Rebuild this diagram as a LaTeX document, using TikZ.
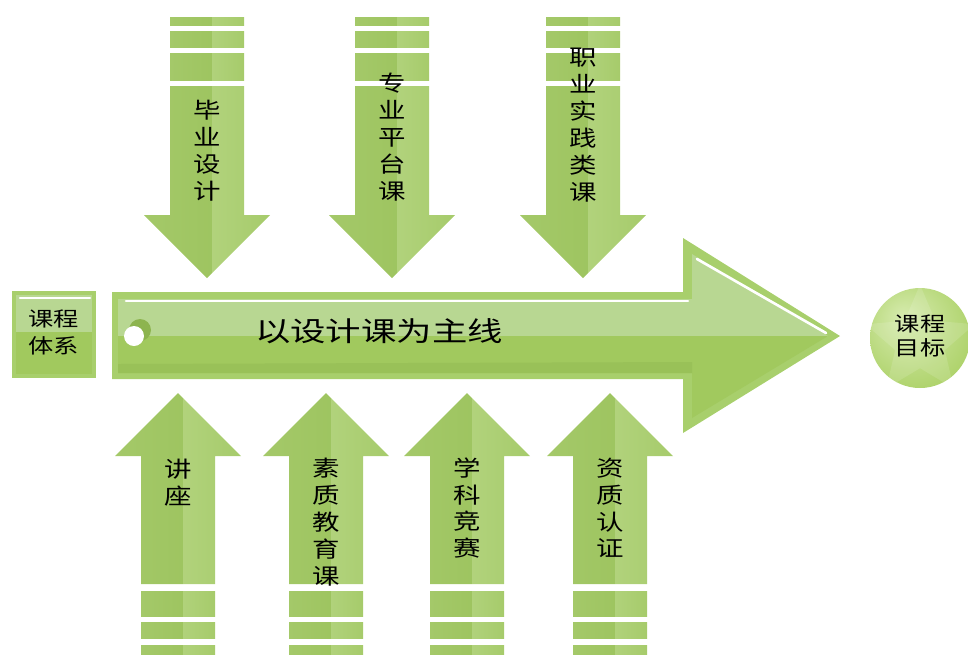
\documentclass[tikz,border=0pt]{standalone}
\usepackage{fontspec}
\setmainfont{Noto Sans CJK SC}
\usepackage{tikz}
\usetikzlibrary{shapes.geometric}
\definecolor{leafdark}{HTML}{99C159}
\definecolor{leafedge}{HTML}{A8CF6C}
\definecolor{leaflight}{HTML}{BEDB8F}
\definecolor{leafmid}{HTML}{A6CB6B}
\definecolor{leaftop}{HTML}{B8D792}
\definecolor{leafbot}{HTML}{A1C95E}
\definecolor{leafshadow}{HTML}{8DB44F}
\definecolor{ballhi}{HTML}{D6EBAE}
\definecolor{ballmid}{HTML}{AAD064}
\definecolor{ballrim}{HTML}{86B540}
\pgfdeclareradialshading{goalball}{\pgfpoint{-9bp}{11bp}}{%
  color(0bp)=(ballhi); color(14bp)=(ballhi!60!ballmid); color(34bp)=(ballmid); color(50bp)=(ballrim)}

\begin{document}
\begin{tikzpicture}
        [%%%%%%%%%%%%%%%%%%%%%%%%%%%%%%
        x=0.02cm, y=-0.02cm,
        darkhalf/.style={left color=leafdark!70!leaflight, right color=leafdark},
        lighthalf/.style={left color=leaflight, right color=leafmid},
        lbl/.style={font=\fontsize{12.5}{15.3}\selectfont, align=center, xscale=1.25, inner sep=0pt},
        ]%%%%%%%%%%%%%%%%%%%%%%%%%%%%%%
        \useasboundingbox (0,0) rectangle (968,654);
        % DOWN ARROWS (top row)
        \foreach \cx/\ty/\nm/\txt in {207/151/bysj/{毕\\业\\设\\计},
                                      392/137/zypt/{专\\业\\平\\台\\课},
                                      583/125/zysj/{职\\业\\实\\践\\类\\课}}{
          \def\arrowdown{(\cx-37,86) -- (\cx+37,86) -- (\cx+37,215) -- (\cx+63,215) -- (\cx,278) -- (\cx-63,215) -- (\cx-37,215) -- cycle}
          \begin{scope}
            \clip (\cx-70,0) rectangle (\cx+5,300);
            \shade[darkhalf] \arrowdown;
            \foreach \a/\b in {17/25,31/47,53/80}
              \shade[darkhalf] (\cx-37,\a) rectangle (\cx+37,\b);
          \end{scope}
          \begin{scope}
            \clip (\cx+5,0) rectangle (\cx+70,300);
            \shade[lighthalf] \arrowdown;
            \foreach \a/\b in {17/25,31/47,53/80}
              \shade[lighthalf] (\cx-37,\a) rectangle (\cx+37,\b);
          \end{scope}
          \node[lbl] (\nm) at (\cx,\ty) {\txt};
        }
        % UP ARROWS (bottom row)
        \foreach \cx/\ty/\nm/\txt in {178/483/jz/{讲\\座},
                                      326/522/szjy/{素\\质\\教\\育\\课},
                                      467/508/xkjs/{学\\科\\竞\\赛},
                                      610/508/zzrz/{资\\质\\认\\证}}{
          \def\arrowup{(\cx-37,584) -- (\cx+37,584) -- (\cx+37,456) -- (\cx+63,456) -- (\cx,393) -- (\cx-63,456) -- (\cx-37,456) -- cycle}
          \begin{scope}
            \clip (\cx-70,380) rectangle (\cx+5,660);
            \shade[darkhalf] \arrowup;
            \foreach \a/\b in {591/616,622/638,645/660}
              \shade[darkhalf] (\cx-37,\a) rectangle (\cx+37,\b);
          \end{scope}
          \begin{scope}
            \clip (\cx+5,380) rectangle (\cx+70,660);
            \shade[lighthalf] \arrowup;
            \foreach \a/\b in {591/616,622/638,645/660}
              \shade[lighthalf] (\cx-37,\a) rectangle (\cx+37,\b);
          \end{scope}
          \node[lbl] (\nm) at (\cx,\ty) {\txt};
        }
        % MAIN ARROW
        \fill[leafedge] (112,292) -- (683,292) -- (683,238) -- (840,336) -- (683,433) -- (683,379) -- (112,379) -- cycle;
        \def\inner{(118,299) -- (692,299) -- (692,254) -- (828,336) -- (692,418) -- (692,373) -- (118,373) -- cycle}
        \begin{scope}
          \clip (100,230) rectangle (850,336);
          \fill[leaftop] \inner;
        \end{scope}
        \begin{scope}
          \clip (100,336) rectangle (850,440);
          \fill[leafbot] \inner;
          \fill[leafshadow!40!leafbot] (118,364) -- (692,362) -- (692,373) -- (118,373) -- cycle;
        \end{scope}
        % highlights
        \draw[white, line width=1.5pt, line cap=round] (126,301) -- (688,301);
        \draw[white, line width=1.5pt, line cap=round] (697,259) -- (826,333);
        % hole
        \fill[leafshadow] (140,330) circle (11);
        \fill[white] (134,336) circle (10);
        \node[font=\fontsize{15.5}{18}\selectfont, xscale=1.3, inner sep=0pt] (mainline) at (379,331) {以设计课为主线};
        % LEFT BOX
        \fill[leafedge] (12,291) rectangle (96,378);
        \fill[leaftop] (16,295) rectangle (92,332);
        \fill[leafbot] (16,332) rectangle (92,374);
        \draw[white, line width=1.2pt, line cap=round] (20,298) -- (90,298);
        \node[lbl, font=\fontsize{11.5}{15.3}\selectfont] (system) at (54,332) {课程\\体系};
        % GOAL BALL
        \shade[shading=goalball] (920,338) circle (50);
        \node[star, star points=5, star point ratio=2.2, minimum size=2.3cm, fill=white, opacity=0.13] (star) at (920,342) {};
        \node[lbl, font=\fontsize{11.5}{13.5}\selectfont] (goal) at (920,336) {课程\\目标};
\end{tikzpicture}
\end{document}
